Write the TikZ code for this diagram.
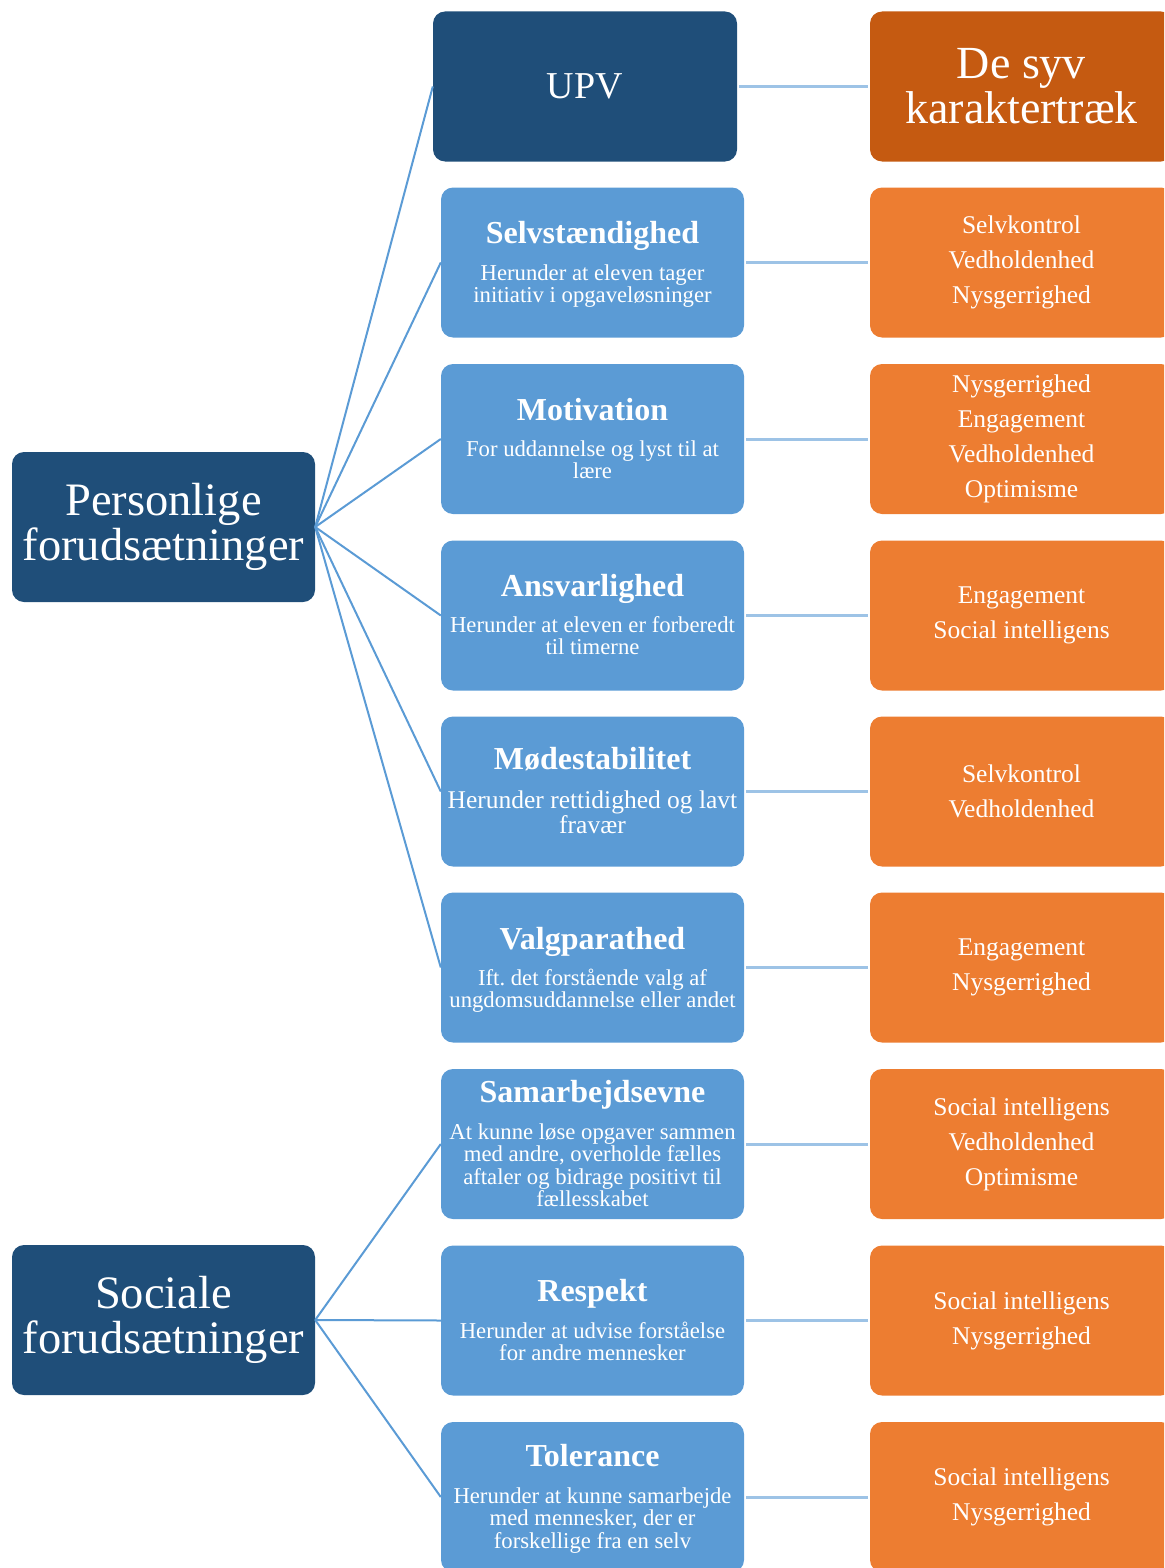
\documentclass[tikz,border=0pt]{standalone}
\usepackage{fontspec}
\setmainfont{Liberation Serif}
\frenchspacing
\definecolor{kdarkblue}{HTML}{1F4E79}
\definecolor{klightblue}{HTML}{5B9BD5}
\definecolor{korange}{HTML}{ED7D31}
\definecolor{kdarkorange}{HTML}{C55A11}
\definecolor{klinec}{HTML}{5B9BD5}
\definecolor{khlinec}{HTML}{9DC3E6}
\begin{document}
\begin{tikzpicture}[x=1pt,y=-1pt,
  box/.style={rectangle, rounded corners=12pt, minimum width=303pt, minimum height=150pt, inner sep=0pt, text=white, align=flush center},
  hdbox/.style={box, fill=kdarkblue, font=\fontsize{46.5}{45.5}\selectfont},
  bluebox/.style={box, fill=klightblue},
  orbox/.style={box, fill=korange, font=\fontsize{25.5}{35}\selectfont},
  ttl/.style={anchor=base, text=white, font=\bfseries\fontsize{32}{33}\selectfont, inner sep=0pt},
  bdy/.style={anchor=base, text=white, font=\fontsize{22.7}{22.5}\selectfont, inner sep=0pt, text width=303pt, align=flush center},
  diag/.style={draw=klinec, line width=2pt},
  hl/.style={draw=khlinec, line width=3pt, shorten <=2pt, shorten >=2pt}]
\useasboundingbox (0,0) rectangle (1164,1568);
\clip (0,0) rectangle (1164,1568);
% left heads
\node[hdbox] (pers) at (163.5,527) {Personlige\\forudsætninger};
\node[hdbox] (soc) at (163.5,1320) {Sociale\\forudsætninger};
% top row
\node[hdbox, minimum width=304pt, font=\fontsize{38}{45}\selectfont] (upv) at (585,86.5) {UPV};
\node[hdbox, fill=kdarkorange, font=\fontsize{46}{45}\selectfont] (syv) at (1021.5,86.5) {De syv\\karaktertræk};
% blue boxes
\node[bluebox] (b1) at (592.5,262.5) {};
\node[bluebox] (b2) at (592.5,439) {};
\node[bluebox] (b3) at (592.5,615.5) {};
\node[bluebox] (b4) at (592.5,791.5) {};
\node[bluebox] (b5) at (592.5,967.5) {};
\node[bluebox] (b6) at (592.5,1144) {};
\node[bluebox] (b7) at (592.5,1320.5) {};
\node[bluebox] (b8) at (592.5,1497) {};
% titles and bodies
\node[ttl] (b1t) at (592.5,243) {Selvstændighed};
\node[bdy] (b1d) at (592.5,280) {Herunder at eleven tager\\initiativ i opgaveløsninger};
\node[ttl] (b2t) at (592.5,420) {Motivation};
\node[bdy] (b2d) at (592.5,456) {For uddannelse og lyst til at\\lære};
\node[ttl] (b3t) at (592.5,596) {Ansvarlighed};
\node[bdy] (b3d) at (592.5,632) {Herunder at eleven er forberedt\\til timerne};
\node[ttl] (b4t) at (592.5,769) {Mødestabilitet};
\node[bdy, font=\fontsize{25.5}{25}\selectfont] (b4d) at (592.5,808) {Herunder rettidighed og lavt\\fravær};
\node[ttl] (b5t) at (592.5,949) {Valgparathed};
\node[bdy] (b5d) at (592.5,985) {Ift. det forstående valg af\\ungdomsuddannelse eller andet};
\node[ttl] (b6t) at (592.5,1102) {Samarbejdsevne};
\node[bdy] (b6d) at (592.5,1139) {At kunne løse opgaver sammen\\med andre, overholde fælles\\aftaler og bidrage positivt til\\fællesskabet};
\node[ttl] (b7t) at (592.5,1301) {Respekt};
\node[bdy] (b7d) at (592.5,1338) {Herunder at udvise forståelse\\for andre mennesker};
\node[ttl] (b8t) at (592.5,1466) {Tolerance};
\node[bdy] (b8d) at (592.5,1503) {Herunder at kunne samarbejde\\med mennesker, der er\\forskellige fra en selv};
% orange boxes
\node[orbox] (o1) at (1021.5,262.5) {Selvkontrol\\Vedholdenhed\\Nysgerrighed};
\node[orbox] (o2) at (1021.5,439) {Nysgerrighed\\Engagement\\Vedholdenhed\\Optimisme};
\node[orbox] (o3) at (1021.5,615.5) {Engagement\\Social intelligens};
\node[orbox] (o4) at (1021.5,791.5) {Selvkontrol\\Vedholdenhed};
\node[orbox] (o5) at (1021.5,967.5) {Engagement\\Nysgerrighed};
\node[orbox] (o6) at (1021.5,1144) {Social intelligens\\Vedholdenhed\\Optimisme};
\node[orbox] (o7) at (1021.5,1320.5) {Social intelligens\\Nysgerrighed};
\node[orbox] (o8) at (1021.5,1497) {Social intelligens\\Nysgerrighed};
% connectors
\draw[diag] (pers.east) -- (upv.west);
\foreach \i in {1,...,5} {\draw[diag] (pers.east) -- (b\i.west);}
\foreach \i in {6,7,8} {\draw[diag] (soc.east) -- (b\i.west);}
\draw[hl] (upv.east) -- (syv.west);
\foreach \i in {1,...,8} {\draw[hl] (b\i.east) -- (o\i.west);}
\end{tikzpicture}
\end{document}
